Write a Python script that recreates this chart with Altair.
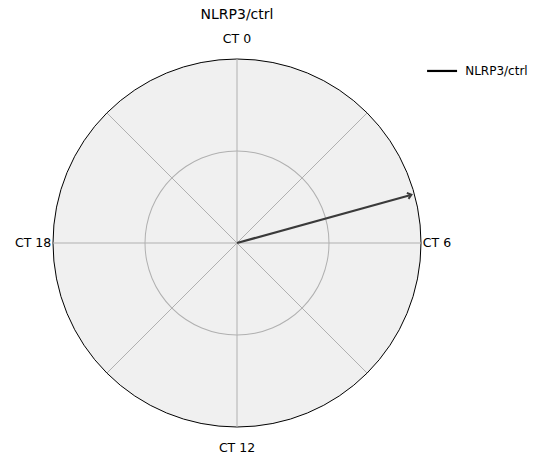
import altair as alt
import numpy as np
import pandas as pd

# data
series = ["NLRP3/ctrl"]
phase_hours = [4.97]
amplitude = [0.975]
tick_labels = ["CT 0", "CT 6", "CT 12", "CT 18"]
tick_hours = [0, 6, 12, 18]

R = 184
sx = alt.Scale(domain=[-1, 1])
sy = alt.Scale(domain=[-1, 1])
X = lambda f: alt.X(f, scale=sx, axis=None)
Y = lambda f: alt.Y(f, scale=sy, axis=None)
one = pd.DataFrame({"x": [0.0], "y": [0.0]})

disk = alt.Chart(one).mark_arc(radius=R, theta=0, theta2=2 * np.pi, fill="#f0f0f0",
                               stroke="black", strokeWidth=1).encode(x=X("x:Q"), y=Y("y:Q"))
inner = alt.Chart(one).mark_arc(radius=R / 2 - 0.5, radius2=R / 2 + 0.5, theta=0, theta2=2 * np.pi,
                                fill="#b0b0b0").encode(x=X("x:Q"), y=Y("y:Q"))

ang = np.deg2rad(np.arange(0, 360, 45))
spokes = pd.DataFrame({"x": 0.0, "y": 0.0, "x2": np.sin(ang), "y2": np.cos(ang)})
spk = alt.Chart(spokes).mark_rule(color="#b0b0b0", strokeWidth=1).encode(
    x=X("x:Q"), y=Y("y:Q"), x2="x2:Q", y2="y2:Q")

th = np.deg2rad(np.array(phase_hours) * 15)
vec = pd.DataFrame({"s": series, "x": 0.0, "y": 0.0,
                    "x2": np.array(amplitude) * np.sin(th), "y2": np.array(amplitude) * np.cos(th),
                    "a": np.array(phase_hours) * 15})
arrow = alt.Chart(vec).mark_rule(color="#3a3a3a", strokeWidth=2.2).encode(
    x=X("x:Q"), y=Y("y:Q"), x2="x2:Q", y2="y2:Q")
head = alt.Chart(vec).mark_point(shape="M-0.8,0.6L0,-0.4L0.8,0.6", filled=False, color="#3a3a3a",
                                 strokeWidth=2, size=60, opacity=1).encode(
    x=X("x2:Q"), y=Y("y2:Q"), angle=alt.Angle("a:Q", scale=None))

tl = pd.DataFrame({"t": tick_labels,
                   "x": [0, 1.01, 0, -1.01], "y": [1.11, 0, -1.115, 0]})
lab_c = alt.Chart(tl[tl.x == 0]).mark_text(fontSize=12.5, font="DejaVu Sans", baseline="middle").encode(
    x=X("x:Q"), y=Y("y:Q"), text="t:N")
lab_l = alt.Chart(tl[tl.x > 0]).mark_text(fontSize=12.5, font="DejaVu Sans", align="left").encode(
    x=X("x:Q"), y=Y("y:Q"), text="t:N")
lab_r = alt.Chart(tl[tl.x < 0]).mark_text(fontSize=12.5, font="DejaVu Sans", align="right").encode(
    x=X("x:Q"), y=Y("y:Q"), text="t:N")

title = alt.Chart(pd.DataFrame({"x": [0], "y": [1.24], "t": series})).mark_text(
    fontSize=14, font="DejaVu Sans", baseline="middle").encode(x=X("x:Q"), y=Y("y:Q"), text="t:N")

leg = pd.DataFrame({"x": [1.033], "x2": [1.196], "y": [0.935], "t": series, "tx": [1.24]})
leg_line = alt.Chart(leg).mark_rule(color="black", strokeWidth=2.2).encode(
    x=X("x:Q"), x2="x2:Q", y=Y("y:Q"))
leg_txt = alt.Chart(leg).mark_text(fontSize=12, font="DejaVu Sans", align="left").encode(
    x=X("tx:Q"), y=Y("y:Q"), text="t:N")

chart = (disk + inner + spk + arrow + head + lab_c + lab_l + lab_r + title + leg_line + leg_txt).properties(
    width=2 * R, height=2 * R, autosize="none",
    padding={"left": 45, "top": 51, "right": 125, "bottom": 30},
).configure_view(stroke=None)

chart.save("out.html", embed_options={"renderer": "svg", "actions": False})
